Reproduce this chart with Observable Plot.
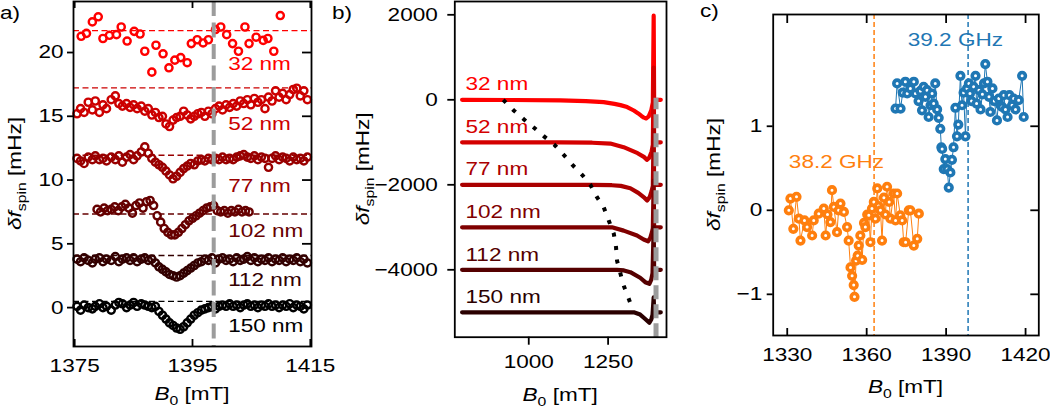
<!DOCTYPE html>
<html><head><meta charset="utf-8">
<script src="https://cdn.jsdelivr.net/npm/d3@7"></script>
<script src="https://cdn.jsdelivr.net/npm/@observablehq/plot@0.6"></script>
<style>
body{margin:0;background:#fff;}
#wrap{position:relative;width:1050px;height:408px;overflow:hidden;background:#fff;}
#wrap svg{position:absolute;top:0;}
</style></head><body><div id="wrap"></div>
<script>
// ---------------- shared ----------------
const FONT = '"Liberation Sans", Arial, sans-serif';
const FS = 18.5, SX = 1.22;
const thicknessLabels = ["32 nm","52 nm","77 nm","102 nm","112 nm","150 nm"];
const colorsA = ["#ff0000","#cc0000","#990000","#660000","#330000","#000000"];
const colorsB = ["#ff0000","#d40000","#aa0000","#7f0000","#550000","#2a0000"];

// ---------------- panel a data ----------------
const xTicksA = [1375, 1395, 1415];
const yTicksA = [0, 5, 10, 15, 20];
const baselineA = [21.72, 17.23, 11.95, 7.34, 4.09, 0.49];
const labelYA = [19.1, 14.36, 9.55, 6.0, 2.13, -1.42];
const labelFieldA = 1401.05;
const grayFieldA = 1398.6;

const fieldA_32 = [1376.1,1377.0,1378.0,1379.0,1379.8,1380.9,1382.1,1382.9,1383.9,1385.1,1386.1,1386.9,1388.1,1388.8,1390.0,1391.0,1392.0,1393.0,1394.1,1394.8,1395.8,1396.8,1397.7,1398.9,1399.8,1400.8,1401.8,1402.8,1403.9,1404.6,1405.8,1407.0,1407.8,1408.8,1409.9];
const dfA_32 = [21.27,21.5,22.4,22.8,21.1,21.35,21.4,22.0,20.9,21.66,21.45,20.1,18.46,20.57,19.9,18.8,19.4,19.6,19.2,20.7,21.0,20.75,21.0,21.8,22.0,21.4,20.7,20.1,22.0,20.7,21.2,20.95,21.1,20.1,22.9];

const fieldA_dense = [1375.4,1376.0,1376.6,1377.3,1378.0,1378.5,1379.2,1379.8,1380.4,1381.2,1381.9,1382.5,1383.1,1383.8,1384.4,1385.0,1385.6,1386.3,1386.9,1387.5,1388.1,1388.7,1389.3,1389.9,1390.5,1391.1,1391.7,1392.3,1392.9,1393.5,1394.1,1394.7,1395.3,1395.9,1396.5,1397.1,1397.7,1398.3,1398.9,1399.5,1400.1,1400.7,1401.3,1401.9,1402.5,1403.1,1403.7,1404.3,1404.9,1405.5,1406.1,1406.7,1407.3,1407.9,1408.5,1409.1,1409.7,1410.3,1410.9,1411.5,1412.1,1412.7,1413.3,1413.9,1414.5];
const dfA_52 = [15.2,15.6,15.3,16.1,15.5,16.2,15.3,15.9,15.6,16.3,16.6,16.0,15.8,16.0,15.7,15.9,15.6,15.8,15.4,15.6,15.1,15.3,14.9,15.0,14.4,14.2,14.7,14.9,15.0,15.4,15.1,14.8,15.0,15.2,15.3,15.0,15.4,15.2,15.6,15.8,15.5,15.9,15.7,16.0,15.8,16.2,16.0,16.3,15.9,16.4,16.1,16.3,15.6,16.5,16.2,17.0,16.5,16.8,16.3,16.7,17.1,17.2,16.6,17.0,16.3];
const dfA_77 = [11.7,11.5,11.3,11.8,11.6,11.9,11.6,11.7,11.5,11.8,11.6,11.9,11.4,11.8,12.0,11.6,11.9,12.2,12.6,12.1,11.7,11.4,11.2,11.0,10.7,10.4,10.1,10.3,10.6,10.9,11.1,11.3,11.2,11.5,11.6,11.5,11.7,11.6,11.7,11.6,11.8,11.6,11.7,11.6,11.8,11.9,12.0,11.8,11.7,11.9,11.6,11.8,11.7,11.0,11.7,11.9,11.6,11.8,11.7,11.5,11.8,11.6,11.7,11.5,11.8];
const dfA_112 = [3.8,3.6,3.9,3.7,3.5,3.8,3.9,3.6,3.8,3.7,4.0,3.6,3.8,3.9,3.7,3.9,3.6,3.8,3.9,3.7,3.8,3.5,3.2,3.0,2.8,2.6,2.5,2.4,2.5,2.7,2.9,3.1,3.3,3.5,3.6,3.8,3.7,3.9,3.5,3.8,3.9,3.7,3.8,3.6,3.9,3.7,3.8,4.0,3.7,3.9,3.6,3.8,3.7,3.9,3.6,3.8,3.7,3.9,3.6,3.8,3.7,3.9,3.6,3.8,3.5];
const dfA_150 = [0.1,-0.2,0.2,0.0,-0.1,0.1,0.3,0.0,0.1,-0.2,0.2,0.4,0.3,0.0,0.2,0.4,0.1,0.3,0.2,0.1,0.0,0.1,-0.3,-0.6,-0.9,-1.2,-1.4,-1.6,-1.7,-1.5,-1.2,-0.9,-0.6,-0.4,-0.2,-0.1,0.0,0.1,-0.1,0.1,0.2,0.1,0.3,0.1,0.2,0.0,0.2,0.3,0.1,0.2,0.0,0.2,0.1,0.3,0.1,0.2,0.0,0.2,0.1,0.3,0.0,0.2,0.1,-0.1,0.2];
const fieldA_102 = [1378.8,1379.4,1380.0,1380.6,1381.2,1381.8,1382.4,1383.0,1383.6,1384.2,1384.8,1385.4,1386.0,1386.6,1387.2,1387.8,1388.4,1389.0,1389.6,1390.2,1390.8,1391.4,1392.0,1392.6,1393.2,1393.8,1394.4,1395.0,1395.6,1396.2,1396.8,1397.4,1398.0,1398.6,1399.2,1399.8,1400.4,1401.0,1401.6,1402.2,1402.8,1403.4,1404.0,1404.6];
const dfA_102 = [7.7,7.5,7.8,7.6,7.7,7.9,7.6,7.9,8.1,7.8,7.4,8.0,8.2,7.8,8.3,8.4,8.0,7.2,6.7,6.2,5.9,5.7,5.7,5.9,6.2,6.5,6.8,7.0,7.2,7.4,7.6,7.8,7.9,8.0,7.6,7.5,7.6,7.4,7.6,7.5,7.7,7.5,7.6,7.5];

// ---------------- panel b data ----------------
const xTicksB = [1000, 1250];
const yTicksB = [-4000, -2000, 0, 2000];
const labelFieldB = 800.7;
const labelYB = [376, -645, -1624, -2645, -3656, -4645];
const grayFieldB = 1401;
const graySpanB = [-5586, 50];
const simB_32 = [790,950,1100,1180,1236,1270,1289,1310,1331,1345,1355,1363,1370,1378,1386,1391,1393.6,1395,1416];
const simF_32 = [0,-5,-15,-30,-56,-95,-125,-170,-252,-320,-380,-420,-440,-390,-250,-60,1980,0,0];
const simB_52 = [790,1100,1200,1257,1299,1343,1364,1372,1380,1387,1391,1393.6,1395,1416];
const simF_52 = [-1000,-1003,-1010,-1030,-1115,-1256,-1350,-1412,-1360,-1220,-1060,760,-1000,-1000];
const simB_77 = [790,1200,1262,1290,1320,1345,1365,1373,1381,1387,1391,1393.6,1395,1416];
const simF_77 = [-2000,-2003,-2010,-2025,-2080,-2190,-2310,-2370,-2290,-2150,-2030,-700,-2000,-2000];
const simB_102 = [790,1262,1299,1341,1362,1376,1383,1388,1391,1393.6,1395,1416];
const simF_102 = [-3000,-3000,-3078,-3192,-3286,-3329,-3250,-3120,-3020,-1900,-3000,-3000];
const simB_112 = [790,1278,1300,1320,1351,1367,1380,1386,1390,1393.6,1395,1416];
const simF_112 = [-4000,-4000,-4015,-4056,-4188,-4292,-4329,-4230,-4080,-3000,-4000,-4000];
const simB_150 = [790,1331,1351,1367,1380,1386,1390,1393.6,1395,1416];
const simF_150 = [-5000,-5000,-5054,-5157,-5247,-5170,-5060,-4650,-5000,-5000];
const onsetB = [919.4,952.8,984.3,1015.7,1047.2,1080.9,1110,1138.5,1168,1194,1215,1236,1252,1268,1275,1278,1289,1299,1315,1329];
const onsetF = [0,-252,-456,-652,-856,-1059,-1294,-1539,-1765,-2000,-2292,-2527,-2840,-3153,-3468,-3781,-4094,-4369,-4682,-4958];

// ---------------- panel c data ----------------
const xTicksC = [1330, 1360, 1390, 1420];
const yTicksC = [-1, 0, 1];
const freqLabels = ["38.2 GHz", "39.2 GHz"];
const freqColors = ["#ff7f0e", "#1f77b4"];
const freqLineField = [1362.8, 1398.3];
const freqLabelField = [1348.6, 1393.5];
const freqLabelY = [0.57, 2.02];
const fieldC_382 = [1330.6,1331.2,1332.3,1333.5,1334.4,1335.0,1336.5,1337.5,1339.4,1340.0,1341.9,1343.8,1344.5,1345.2,1346.3,1346.9,1347.6,1348.8,1349.4,1350.1,1351.4,1352.6,1353.2,1353.9,1354.5,1355.1,1355.4,1356.0,1356.6,1357.0,1357.6,1358.3,1359.0,1359.5,1360.2,1360.8,1361.4,1362.0,1362.7,1363.3,1364.0,1364.5,1365.2,1365.8,1366.5,1367.1,1367.7,1368.5,1369.0,1370.2,1370.9,1371.5,1372.7,1373.4,1374.0,1374.7,1375.9,1376.5,1377.8,1379.1,1379.7];
const dfC_382 = [0.00,0.14,-0.22,0.16,-0.10,-0.36,-0.12,-0.20,-0.30,-0.12,-0.04,0.02,-0.30,-0.05,-0.14,0.24,0.04,-0.26,0.00,0.08,-0.02,-0.20,-0.36,-0.68,-0.78,-0.89,-1.03,-0.60,-0.54,-0.42,-0.30,-0.59,-0.15,-0.20,-0.05,-0.06,-0.38,0.02,0.10,-0.10,0.26,0.05,0.00,-0.36,0.15,-0.05,0.28,0.10,-0.10,0.20,-0.12,0.20,-0.06,-0.12,-0.38,-0.38,0.00,0.00,-0.42,-0.34,-0.04];
const fieldC_392 = [1370.9,1371.5,1372.8,1373.6,1374.6,1375.3,1376.5,1377.8,1378.4,1379.6,1380.3,1380.9,1381.5,1382.2,1382.8,1383.4,1384.1,1384.7,1385.3,1385.9,1386.6,1387.2,1387.8,1388.2,1388.5,1389.1,1389.7,1390.4,1391.0,1391.6,1392.2,1392.8,1393.5,1394.1,1394.6,1395.4,1396.0,1396.6,1397.3,1397.9,1398.6,1399.0,1399.6,1400.4,1401.1,1401.5,1402.4,1403.0,1403.7,1404.3,1404.8,1405.6,1406.2,1406.7,1407.5,1408.2,1409.2,1409.9,1410.5,1411.1,1411.8,1412.4,1413.2,1413.9,1414.9,1415.5,1416.2,1417.4,1418.7,1419.3];
const dfC_392 = [1.21,1.51,1.21,1.40,1.53,1.39,1.45,1.53,1.39,1.30,1.42,1.19,1.47,1.35,1.43,1.11,1.25,1.39,1.27,1.51,1.20,1.10,0.97,0.75,0.73,0.49,0.61,0.49,0.27,0.45,0.60,0.75,1.22,0.88,1.02,1.60,1.25,1.40,0.88,1.45,1.51,1.39,1.30,1.47,1.60,1.27,1.43,1.20,1.38,1.51,1.74,1.53,1.35,1.17,1.45,1.30,1.07,1.33,1.25,1.23,1.37,1.20,1.11,1.37,1.25,1.33,1.20,1.31,1.60,1.11];

// ---------------- helpers ----------------
const rows = (fields, values, extra) => d3.zip(fields, values).map(([B, f]) => ({B, f, ...extra}));
const baseStyle = {fontFamily: FONT, fontSize: FS + "px", background: "transparent", overflow: "visible", color: "black"};

function addLabel(svg, x, y, parts, opts = {}) {
  const t = d3.select(svg).append("text")
    .attr("transform", `translate(${x},${y})` + (opts.rotate ? ` rotate(${opts.rotate})` : ""))
    .attr("text-anchor", opts.anchor || "middle")
    .attr("font-family", FONT).attr("font-size", FS).attr("fill", "black")
    .attr("style", "white-space:pre");
  for (const p of parts) {
    const s = t.append("tspan").text(p.t);
    if (p.italic) s.attr("font-style", "italic");
    if (p.sub) s.attr("font-size", FS * 0.7).attr("dy", 4.5);
    if (p.unsub) s.attr("dy", -4.5);
  }
}
function stretch(svg) {
  svg.querySelectorAll("text").forEach(t => {
    let tr = t.getAttribute("transform") || "";
    const x = t.getAttribute("x");
    if (x && !/em/.test(x) && parseFloat(x) !== 0) { tr += ` translate(${x},0)`; t.setAttribute("x", 0); }
    t.setAttribute("transform", tr + ` scale(${SX},1)`);
  });
}
const xLabelParts = [{t: "B", italic: true}, {t: "0", sub: true}, {t: " [mT]", unsub: true}];
const yLabelParts = [{t: "δf", italic: true}, {t: "spin", sub: true}, {t: " [mHz]", unsub: true}];
const wrap = document.getElementById("wrap");

// ---------------- panel a ----------------
{
  const W = 330, top = 1, bottom = 346, left = 73, right = 311;
  const fh = bottom - top, fw = right - left;
  const data = [
    ...rows(fieldA_32, dfA_32, {c: colorsA[0]}),
    ...rows(fieldA_dense, dfA_52, {c: colorsA[1]}),
    ...rows(fieldA_dense, dfA_77, {c: colorsA[2]}),
    ...rows(fieldA_102, dfA_102, {c: colorsA[3]}),
    ...rows(fieldA_dense, dfA_112, {c: colorsA[4]}),
    ...rows(fieldA_dense, dfA_150, {c: colorsA[5]}),
  ];
  const base = baselineA.map((y, i) => ({y, c: colorsA[i]}));
  const labels = thicknessLabels.map((t, i) => ({t, x: labelFieldA, y: labelYA[i], c: colorsA[i]}));
  const svg = Plot.plot({
    width: W, height: 408, marginLeft: left, marginRight: W - right, marginTop: top, marginBottom: 408 - bottom,
    style: baseStyle,
    x: {domain: [1374.8, 1415.2]}, y: {domain: [-3.05, 24.0]},
    color: {type: "identity"},
    marks: [
      Plot.ruleY(base, {y: "y", stroke: "c", strokeWidth: 1.4, strokeDasharray: "6,3.5"}),
      Plot.dot(data, {x: "B", y: "f", stroke: "c", r: 3.6, strokeWidth: 2.4}),
      Plot.ruleX([grayFieldA], {stroke: "#9c9c9c", strokeWidth: 4, strokeDasharray: "15,6.5"}),
      Plot.text(labels, {x: "x", y: "y", text: "t", fill: "c", textAnchor: "start"}),
      Plot.frame({stroke: "black", strokeWidth: 1.8}),
      Plot.axisY(yTicksA, {tickSize: 6, tickPadding: 4, strokeWidth: 1.8, label: null, tickFormat: "d"}),
      Plot.axisX(xTicksA, {tickSize: 0, tickPadding: 12, label: null, tickFormat: "d"}),
      Plot.ruleX(xTicksA, {insetTop: fh - 7, strokeWidth: 1.8}),
      Plot.ruleX(xTicksA, {insetBottom: fh - 7, strokeWidth: 1.8}),
      Plot.ruleY(yTicksA, {insetLeft: fw - 9, strokeWidth: 1.8}),
    ]
  });
  addLabel(svg, (left + right) / 2, 400, xLabelParts);
  addLabel(svg, 21, (top + bottom) / 2, yLabelParts, {rotate: -90});
  addLabel(svg, 0, 19, [{t: "a)"}], {anchor: "start"});
  stretch(svg);
  svg.style.left = "0px";
  wrap.appendChild(svg);
}

// ---------------- panel b ----------------
{
  const X0 = 330, W = 350, top = 1, bottom = 336.7, left = 454.3 - X0, right = 666 - X0;
  const sims = [[simB_32, simF_32], [simB_52, simF_52], [simB_77, simF_77], [simB_102, simF_102], [simB_112, simF_112], [simB_150, simF_150]];
  const lines = sims.map(([b, f], i) => Plot.line(rows(b, f, {}), {x: "B", y: "f", stroke: colorsB[i], strokeWidth: 4.2}));
  const labels = thicknessLabels.map((t, i) => ({t, x: labelFieldB, y: labelYB[i], c: colorsB[i]}));
  const gray = graySpanB.map(f => ({B: grayFieldB, f}));
  const svg = Plot.plot({
    width: W, height: 408, marginLeft: left, marginRight: W - right, marginTop: top, marginBottom: 408 - bottom,
    style: baseStyle,
    x: {domain: [767, 1434]}, y: {domain: [-5586, 2313]},
    color: {type: "identity"},
    marks: [
      ...lines,
      Plot.line(gray, {x: "B", y: "f", stroke: "#9c9c9c", strokeWidth: 5, strokeDasharray: "14,5", strokeLinecap: "butt"}),
      Plot.line(rows(onsetB, onsetF, {}), {x: "B", y: "f", stroke: "black", strokeWidth: 4, strokeDasharray: "4,9.5", strokeLinecap: "butt"}),
      Plot.text(labels, {x: "x", y: "y", text: "t", fill: "c", textAnchor: "start"}),
      Plot.frame({stroke: "black", strokeWidth: 1.8}),
      Plot.axisY(yTicksB, {tickSize: 7, tickPadding: 10, strokeWidth: 1.8, label: null, tickFormat: "d"}),
      Plot.axisX(xTicksB, {tickSize: 8, tickPadding: 10, strokeWidth: 1.8, label: null, tickFormat: "d"}),
    ]
  });
  addLabel(svg, (left + right) / 2, 401, xLabelParts);
  addLabel(svg, 39, (top + bottom) / 2, yLabelParts, {rotate: -90});
  addLabel(svg, 2, 19, [{t: "b)"}], {anchor: "start"});
  stretch(svg);
  svg.style.left = X0 + "px";
  wrap.appendChild(svg);
}

// ---------------- panel c ----------------
{
  const X0 = 690, W = 360, top = 14, bottom = 335, left = 772.7 - X0, right = 1038.3 - X0;
  const fh = bottom - top, fw = right - left;
  const orange = rows(fieldC_382, dfC_382, {});
  const blue = rows(fieldC_392, dfC_392, {});
  const vlines = freqLineField.map((B, i) => ({B, c: freqColors[i]}));
  const labels = freqLabels.map((t, i) => ({t, x: freqLabelField[i], y: freqLabelY[i], c: freqColors[i]}));
  const svg = Plot.plot({
    width: W, height: 408, marginLeft: left, marginRight: W - right, marginTop: top, marginBottom: 408 - bottom,
    style: baseStyle,
    x: {domain: [1324.7, 1425]}, y: {domain: [-1.49, 2.33]},
    color: {type: "identity"},
    marks: [
      Plot.ruleX(vlines, {x: "B", stroke: "c", strokeWidth: 1.5, strokeDasharray: "5,3"}),
      Plot.line(orange, {x: "B", y: "f", stroke: freqColors[0], strokeWidth: 1}),
      Plot.dot(orange, {x: "B", y: "f", stroke: freqColors[0], fill: "white", r: 3.3, strokeWidth: 3.6}),
      Plot.line(blue, {x: "B", y: "f", stroke: freqColors[1], strokeWidth: 1}),
      Plot.dot(blue, {x: "B", y: "f", stroke: freqColors[1], fill: "white", r: 3.3, strokeWidth: 3.6}),
      Plot.text(labels, {x: "x", y: "y", text: "t", fill: "c"}),
      Plot.frame({stroke: "black", strokeWidth: 1.8}),
      Plot.axisY(yTicksC, {tickSize: 6, tickPadding: 5, strokeWidth: 1.8, label: null, tickFormat: "d"}),
      Plot.axisX(xTicksC, {tickSize: 0, tickPadding: 12, label: null, tickFormat: "d"}),
      Plot.ruleX(xTicksC, {insetTop: fh - 7, strokeWidth: 1.8}),
      Plot.ruleX(xTicksC, {insetBottom: fh - 9, strokeWidth: 1.8}),
      Plot.ruleY(yTicksC, {insetLeft: fw - 8, strokeWidth: 1.8}),
    ]
  });
  addLabel(svg, (left + right) / 2, 393, xLabelParts);
  addLabel(svg, 30, (top + bottom) / 2, yLabelParts, {rotate: -90});
  addLabel(svg, 10, 17, [{t: "c)"}], {anchor: "start"});
  stretch(svg);
  svg.style.left = X0 + "px";
  wrap.appendChild(svg);
}
</script></body></html>
